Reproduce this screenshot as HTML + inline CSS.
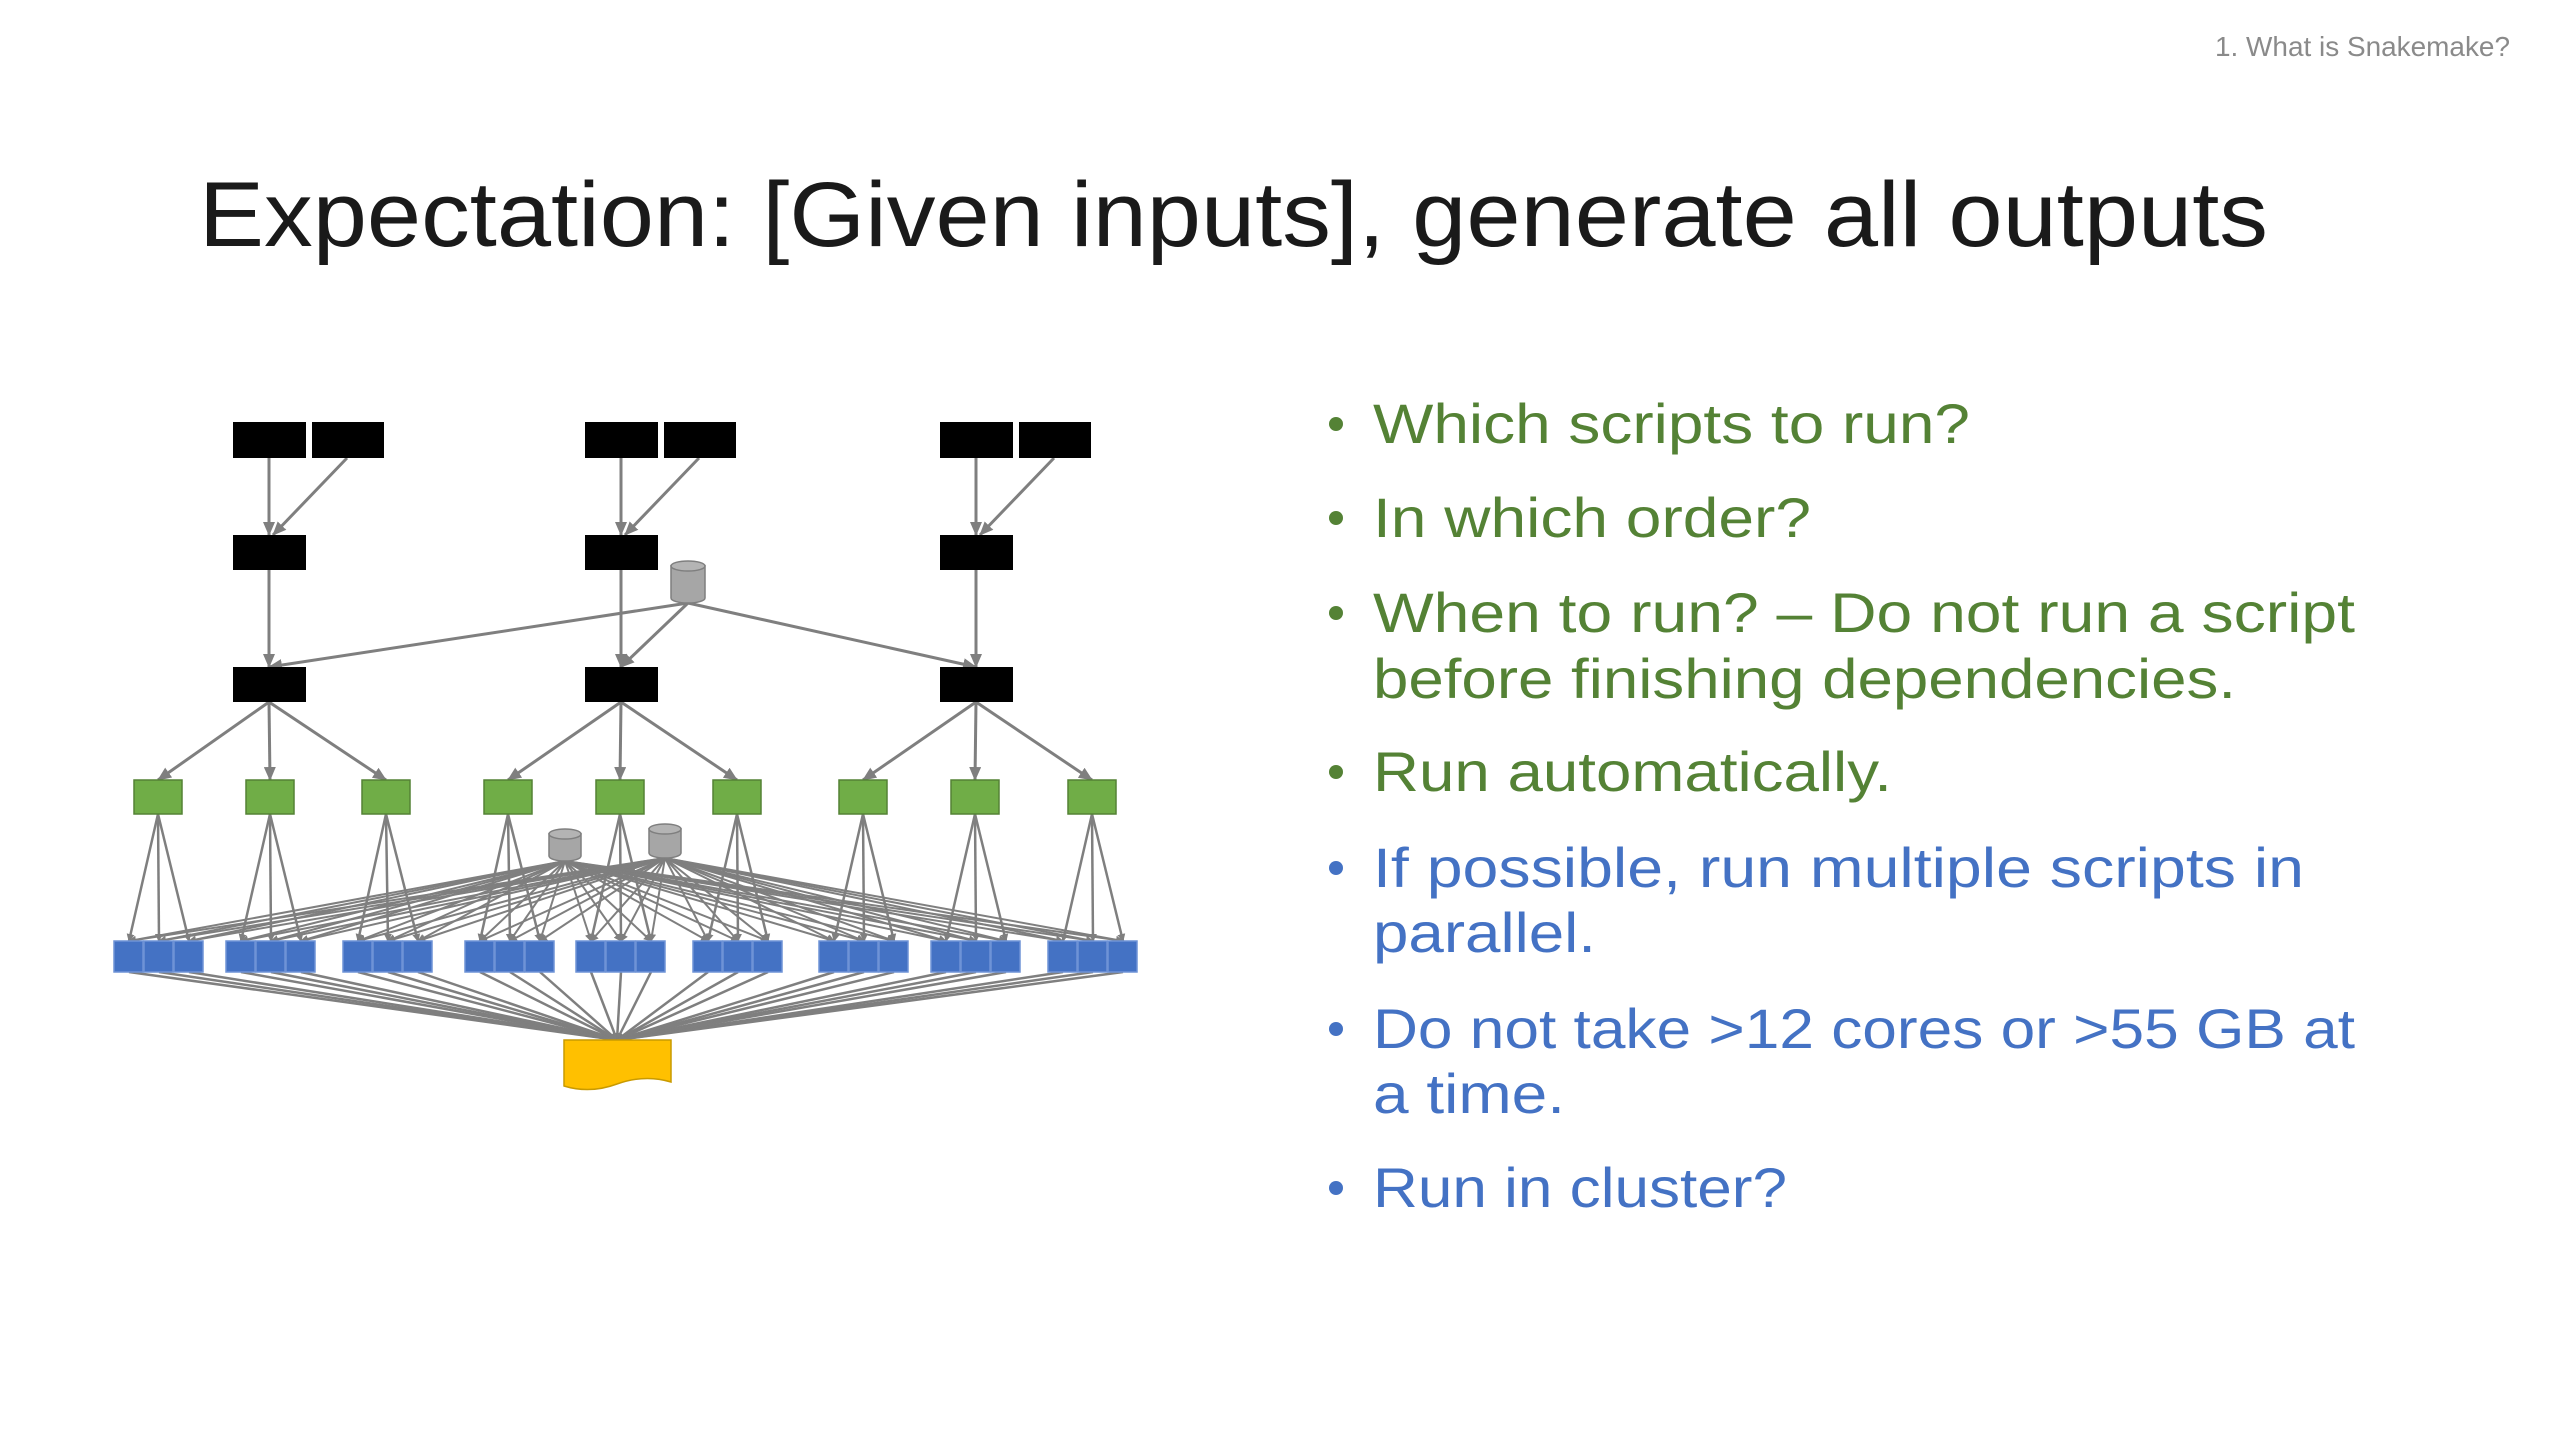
<!DOCTYPE html>
<html><head><meta charset="utf-8"><style>
html,body{margin:0;padding:0;background:#fff;width:2560px;height:1440px;overflow:hidden}
svg{display:block}
text{font-family:"Liberation Sans",sans-serif}
</style></head><body>
<svg id="s" width="2560" height="1440" viewBox="0 0 2560 1440" xmlns="http://www.w3.org/2000/svg">
<defs><marker id="a" markerWidth="8" markerHeight="8" refX="7" refY="4" orient="auto" markerUnits="userSpaceOnUse"><path d="M0,0 L8,4 L0,8 z" fill="#7f7f7f"/></marker>
<marker id="b" markerWidth="14" markerHeight="12" refX="13" refY="6" orient="auto" markerUnits="userSpaceOnUse"><path d="M0,0 L14,6 L0,12 z" fill="#7f7f7f"/></marker></defs>
<text x="2215" y="56" font-size="28" fill="#8a8a8a" textLength="295" lengthAdjust="spacingAndGlyphs">1. What is Snakemake?</text>
<text x="199" y="246" font-size="92" fill="#1a1a1a" textLength="2069" lengthAdjust="spacingAndGlyphs">Expectation: [Given inputs], generate all outputs</text>
<g font-size="56">
<g fill="#548235">
<circle cx="1336" cy="424" r="7"/><text x="1373" y="443" textLength="597" lengthAdjust="spacingAndGlyphs">Which scripts to run?</text>
<circle cx="1336" cy="518" r="7"/><text x="1373" y="537" textLength="438" lengthAdjust="spacingAndGlyphs">In which order?</text>
<circle cx="1336" cy="613" r="7"/><text x="1373" y="632" textLength="982" lengthAdjust="spacingAndGlyphs">When to run? – Do not run a script</text>
<text x="1373" y="698" textLength="863" lengthAdjust="spacingAndGlyphs">before finishing dependencies.</text>
<circle cx="1336" cy="772" r="7"/><text x="1373" y="791" textLength="519" lengthAdjust="spacingAndGlyphs">Run automatically.</text>
</g>
<g fill="#4472c4">
<circle cx="1336" cy="868" r="7"/><text x="1373" y="887" textLength="931" lengthAdjust="spacingAndGlyphs">If possible, run multiple scripts in</text>
<text x="1373" y="952" textLength="223" lengthAdjust="spacingAndGlyphs">parallel.</text>
<circle cx="1336" cy="1029" r="7"/><text x="1373" y="1048" textLength="982" lengthAdjust="spacingAndGlyphs">Do not take &gt;12 cores or &gt;55 GB at</text>
<text x="1373" y="1113" textLength="192" lengthAdjust="spacingAndGlyphs">a time.</text>
<circle cx="1336" cy="1188" r="7"/><text x="1373" y="1207" textLength="414" lengthAdjust="spacingAndGlyphs">Run in cluster?</text>
</g></g>
<g id="edges" stroke="#7f7f7f" fill="none"></g>
<g id="nodes"></g>
</svg>
<script>
var NS="http://www.w3.org/2000/svg",E=document.getElementById("edges"),N=document.getElementById("nodes");
function ln(x1,y1,x2,y2,w,m){var l=document.createElementNS(NS,"line");l.setAttribute("x1",x1);l.setAttribute("y1",y1);l.setAttribute("x2",x2);l.setAttribute("y2",y2);l.setAttribute("stroke-width",w);l.setAttribute("marker-end","url(#"+m+")");E.appendChild(l);}
function rc(x,y,w,h,f,s){var r=document.createElementNS(NS,"rect");r.setAttribute("x",x);r.setAttribute("y",y);r.setAttribute("width",w);r.setAttribute("height",h);r.setAttribute("fill",f);if(s){r.setAttribute("stroke",s);r.setAttribute("stroke-width",1.5);}N.appendChild(r);}
function cyl(cx,y1,y2,w){var g=document.createElementNS(NS,"g");var rx=w/2,ry=5;
g.innerHTML='<path d="M'+(cx-rx)+','+(y1+ry)+' L'+(cx-rx)+','+(y2-ry)+' A'+rx+','+ry+' 0 0 0 '+(cx+rx)+','+(y2-ry)+' L'+(cx+rx)+','+(y1+ry)+' z" fill="#a6a6a6" stroke="#7f7f7f" stroke-width="1.5"/><ellipse cx="'+cx+'" cy="'+(y1+ry)+'" rx="'+rx+'" ry="'+ry+'" fill="#b4b4b4" stroke="#7f7f7f" stroke-width="1.5"/>';N.appendChild(g);}
var cols=[233,585,940];
cols.forEach(function(x){
 rc(x,422,73,36,"#000");rc(x+79,422,72,36,"#000");rc(x,535,73,35,"#000");rc(x,667,73,35,"#000");
 ln(x+36,458,x+36,535,3,"b");ln(x+114,458,x+40,535,3,"b");ln(x+36,570,x+36,667,3,"b");
 ln(688,603,x+36,667,3,"b");
});
var gx=[158,270,386,508,620,737,863,975,1092];
var bl=[114,226,343,465,576,693,819,931,1048];
var blues=[];
bl.forEach(function(x){for(var i=0;i<3;i++)blues.push(x+15+i*30);});
gx.forEach(function(x,i){var c=cols[Math.floor(i/3)]+36;ln(c,702,x,780,3,"b");
 for(var k=0;k<3;k++)ln(x,814,blues[i*3+k],941,2.5,"a");});
blues.forEach(function(b){ln(565,861,b,941,2,"a");ln(665,858,b,941,2,"a");ln(b,972,617,1040,2.5,"a");});
cyl(688,561,603,34);
gx.forEach(function(x){rc(x-24,780,48,34,"#70ad47","#548235");});
cyl(565,829,861,32);cyl(665,824,858,32);
blues.forEach(function(b){rc(b-15,941,29,31,"#4472c4","#6f93d6");});
var y=document.createElementNS(NS,"path");y.setAttribute("d","M564,1040 L671,1040 L671,1082 Q645,1074 617,1084 Q590,1094 564,1086 z");y.setAttribute("fill","#ffc000");y.setAttribute("stroke","#c99a00");y.setAttribute("stroke-width","1.5");N.appendChild(y);
</script>
</body></html>
